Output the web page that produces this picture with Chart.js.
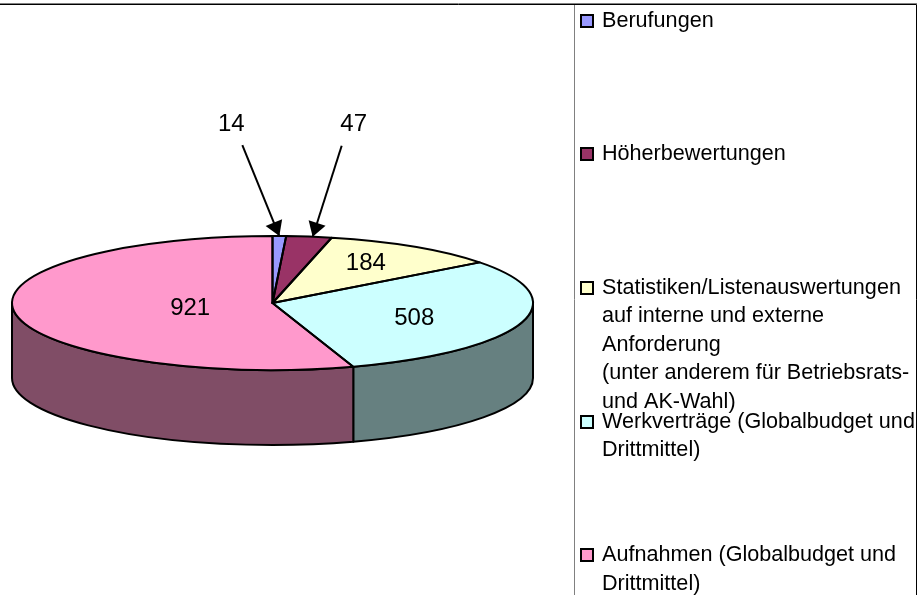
<!DOCTYPE html>
<html>
<head>
<meta charset="utf-8">
<title>Pie</title>
<script src="https://cdn.jsdelivr.net/npm/chart.js@4/dist/chart.umd.min.js"></script>
<style>
    html, body { margin: 0; padding: 0; background: #fff; }
    #wrap { position: relative; width: 917px; height: 595px; overflow: hidden; }
</style>
</head>
<body>
<div id="wrap"><canvas id="chart"></canvas></div>
<script>
const categories = [
    ["Berufungen"],
    ["Höherbewertungen"],
    ["Statistiken/Listenauswertungen", "auf interne und externe", "Anforderung", "(unter anderem für Betriebsrats-", "und AK-Wahl)"],
    ["Werkverträge (Globalbudget und", "Drittmittel)"],
    ["Aufnahmen (Globalbudget und", "Drittmittel)"]
];
const values = [14, 47, 184, 508, 921];
const colors = ["#9999ff", "#993366", "#ffffcc", "#ccffff", "#ff99cc"];
const sideColors = ["#4d4d80", "#4d1a33", "#808066", "#668080", "#804d66"];

// where each value label sits: share of the radius along the slice middle, plus a small nudge down
const insideLabels = { 2: { r: 0.66, dy: -2 }, 3: { r: 0.57, dy: 4 }, 4: { r: 0.32, dy: 2 } };
// small slices get an arrow: label offset from the rim point, and where on the slice the tip lands
const arrowLabels = {
    0: { tip: 0.5, tailX: -37, tailY: -91, textX: -48, textY: -112 },
    1: { tip: 0.58, tailX: 29, tailY: -91, textX: 41, textY: -112 }
};

const SQUASH = 67 / 260.5;
const DEPTH = 75;
const FONT = '"Liberation Sans", Arial, sans-serif';

function tracePoint(arc, angle) {
    return [arc.x + Math.cos(angle) * arc.outerRadius, arc.y + Math.sin(angle) * arc.outerRadius * SQUASH];
}

// the wall below the front half of the pie
function drawSides(chart) {
    const ctx = chart.ctx;
    const arcs = chart.getDatasetMeta(0).data;
    ctx.save();
    ctx.lineWidth = 2;
    ctx.strokeStyle = "#000";
    ctx.lineJoin = "round";
    arcs.forEach(function (arc, i) {
        // angles run from -PI/2 clockwise, the front half is 0..PI
        const start = Math.max(arc.startAngle, 0);
        const end = Math.min(arc.endAngle, Math.PI);
        if (end <= start) return;
        const ry = arc.outerRadius * SQUASH;
        const b = tracePoint(arc, end);
        ctx.beginPath();
        ctx.ellipse(arc.x, arc.y, arc.outerRadius, ry, 0, start, end);
        ctx.lineTo(b[0], b[1] + DEPTH);
        ctx.ellipse(arc.x, arc.y + DEPTH, arc.outerRadius, ry, 0, end, start, true);
        ctx.closePath();
        ctx.fillStyle = sideColors[i];
        ctx.fill();
        ctx.stroke();
    });
    ctx.restore();
}

function drawArcOutlines(chart) {
    const ctx = chart.ctx;
    ctx.save();
    ctx.lineWidth = 2;
    ctx.strokeStyle = "#000";
    ctx.lineJoin = "round";
    chart.getDatasetMeta(0).data.forEach(function (arc) {
        ctx.beginPath();
        ctx.moveTo(arc.x, arc.y);
        ctx.ellipse(arc.x, arc.y, arc.outerRadius, arc.outerRadius * SQUASH, 0, arc.startAngle, arc.endAngle);
        ctx.closePath();
        ctx.stroke();
    });
    ctx.restore();
}

function drawValueLabels(chart) {
    const ctx = chart.ctx;
    ctx.save();
    ctx.font = "24px " + FONT;
    ctx.fillStyle = "#000";
    ctx.strokeStyle = "#000";
    ctx.textAlign = "center";
    ctx.textBaseline = "middle";
    chart.getDatasetMeta(0).data.forEach(function (arc, i) {
        if (insideLabels[i] !== undefined) {
            const mid = (arc.startAngle + arc.endAngle) / 2;
            const r = arc.outerRadius * insideLabels[i].r;
            ctx.fillText(String(values[i]), arc.x + Math.cos(mid) * r, arc.y + Math.sin(mid) * r * SQUASH + insideLabels[i].dy);
            return;
        }
        const opt = arrowLabels[i];
        const angle = arc.startAngle + (arc.endAngle - arc.startAngle) * opt.tip;
        const tip = tracePoint(arc, angle);
        const tailX = tip[0] + opt.tailX;
        const tailY = tip[1] + opt.tailY;
        ctx.fillText(String(values[i]), tip[0] + opt.textX, tip[1] + opt.textY);
        ctx.lineWidth = 2;
        ctx.beginPath();
        ctx.moveTo(tailX, tailY);
        ctx.lineTo(tip[0], tip[1]);
        ctx.stroke();
        const dir = Math.atan2(tip[1] - tailY, tip[0] - tailX);
        ctx.beginPath();
        ctx.moveTo(tip[0], tip[1]);
        ctx.lineTo(tip[0] - Math.cos(dir - 0.55) * 17, tip[1] - Math.sin(dir - 0.55) * 17);
        ctx.lineTo(tip[0] - Math.cos(dir + 0.55) * 17, tip[1] - Math.sin(dir + 0.55) * 17);
        ctx.closePath();
        ctx.fill();
    });
    ctx.restore();
}

function drawFrame(chart) {
    const ctx = chart.ctx;
    ctx.save();
    ctx.lineWidth = 1;
    ctx.strokeStyle = "#808080";
    ctx.beginPath();
    ctx.moveTo(0, 3.5);
    ctx.lineTo(917, 3.5);
    ctx.moveTo(574.5, 4);
    ctx.lineTo(574.5, 595);
    ctx.stroke();
    ctx.strokeStyle = "#000";
    ctx.beginPath();
    ctx.moveTo(0, 4.5);
    ctx.lineTo(916.5, 4.5);
    ctx.lineTo(916.5, 595);
    ctx.stroke();
    ctx.restore();
}

function drawLegend(chart) {
    const ctx = chart.ctx;
    ctx.save();
    ctx.font = "21.6px " + FONT;
    ctx.textBaseline = "alphabetic";
    categories.forEach(function (lines, i) {
        const y = 20.5 + i * 133.7;
        const boxY = Math.round(y) - 6;
        ctx.fillStyle = colors[i];
        ctx.strokeStyle = "#000";
        ctx.lineWidth = 2;
        ctx.fillRect(581, boxY, 12, 12);
        ctx.strokeRect(581, boxY, 12, 12);
        ctx.fillStyle = "#000";
        lines.forEach(function (line, n) {
            ctx.fillText(line, 602, y + 6 + n * 28.5);
        });
    });
    ctx.restore();
}

const pie3d = {
    id: "pie3d",
    beforeDatasetsDraw(chart) {
        drawFrame(chart);
        drawLegend(chart);
        drawSides(chart);
        const arc = chart.getDatasetMeta(0).data[0];
        chart.ctx.save();
        chart.ctx.translate(arc.x, arc.y);
        chart.ctx.scale(1, SQUASH);
        chart.ctx.translate(-arc.x, -arc.y);
    },
    afterDatasetsDraw(chart) {
        chart.ctx.restore();
        drawArcOutlines(chart);
        drawValueLabels(chart);
    }
};

new Chart(document.getElementById("chart"), {
    type: "pie",
    data: {
        labels: categories.map(function (c) { return c.join(" "); }),
        datasets: [{
            data: values,
            backgroundColor: colors,
            borderWidth: 0
        }]
    },
    options: {
        responsive: true,
        maintainAspectRatio: false,
        animation: false,
        layout: { padding: { left: 12, right: 384, top: 42.5, bottom: 31.5 } },
        plugins: {
            legend: { display: false },
            tooltip: { enabled: false }
        }
    },
    plugins: [pie3d]
});
</script>
</body>
</html>
